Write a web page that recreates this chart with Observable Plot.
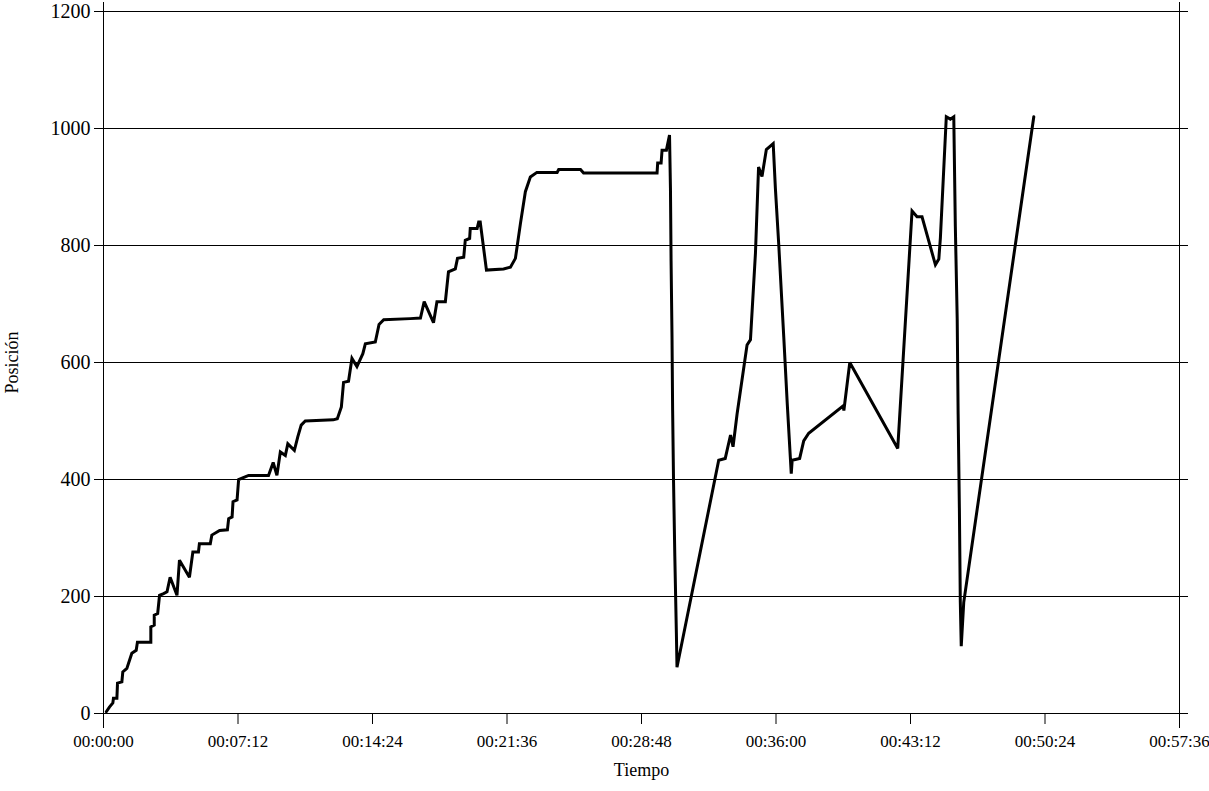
<!DOCTYPE html>
<html>
<head>
<meta charset="utf-8">
<script src="https://cdn.jsdelivr.net/npm/d3@7"></script>
<script src="https://cdn.jsdelivr.net/npm/@observablehq/plot@0.6"></script>
<style>
  html, body { margin: 0; padding: 0; background: #fff; }
</style>
</head>
<body>
<div id="chart"></div>
<script>
// Elapsed time (seconds) and position readings
const tiempo = [
  9, 19, 30, 32, 43, 45, 59, 62, 75, 91, 105, 109, 152, 152, 163, 163, 174, 180, 193, 204,
  214, 236, 244, 276, 287, 305, 308, 343, 348, 373, 398, 402, 413, 416, 429, 434, 466, 530, 545, 557,
  568, 584, 592, 613, 624, 635, 648, 738, 751, 764, 771, 787, 798, 814, 833, 841, 873, 885, 900, 985,
  1018, 1030, 1060, 1071, 1098, 1108, 1130, 1137, 1157, 1162, 1176, 1178, 1200, 1205, 1210, 1230, 1285, 1307, 1323, 1339,
  1355, 1371, 1392, 1457, 1462, 1532, 1542, 1778, 1780, 1791, 1794, 1808, 1818, 1821, 1823, 1826, 1828, 1831, 1835, 1840,
  1842, 1976, 1997, 2014, 2022, 2035, 2067, 2078, 2094, 2104, 2115, 2129, 2151, 2158, 2169, 2185, 2196, 2209, 2212, 2236,
  2249, 2265, 2376, 2378, 2397, 2551, 2597, 2613, 2629, 2672, 2683, 2688, 2707, 2720, 2731, 2736, 2742, 2745, 2749, 2752,
  2755, 2763, 2988
];
const posicion = [
  3, 11, 18, 26, 26, 52, 54, 71, 77, 103, 108, 122, 122, 148, 151, 168, 171, 202, 205, 208,
  233, 202, 262, 233, 276, 276, 290, 290, 305, 313, 314, 333, 336, 362, 365, 400, 407, 407, 429, 407,
  447, 441, 461, 450, 473, 493, 500, 502, 504, 524, 566, 568, 607, 593, 615, 632, 635, 665, 673, 675,
  676, 704, 668, 704, 704, 755, 760, 778, 780, 809, 812, 829, 829, 840, 840, 758, 760, 763, 778, 837,
  892, 917, 925, 925, 930, 930, 924, 924, 941, 941, 963, 963, 989, 898, 774, 643, 518, 394, 269, 138,
  79, 433, 436, 476, 456, 512, 630, 639, 787, 934, 918, 964, 974, 898, 800, 643, 531, 410, 433, 436,
  466, 479, 526, 518, 600, 453, 859, 849, 849, 767, 777, 813, 1020, 1016, 1020, 833, 675, 512, 351, 190,
  115, 190, 1020
];
const xTicks = [0, 432, 864, 1296, 1728, 2160, 2592, 3024, 3456];
const yTicks = [0, 200, 400, 600, 800, 1000, 1200];
const xTitle = "Tiempo";
const yTitle = "Posición";

const data = tiempo.map((t, i) => ({t, p: posicion[i]}));
const pad = n => String(n).padStart(2, "0");
const fmt = s => `${pad(Math.floor(s / 3600))}:${pad(Math.floor(s / 60) % 60)}:${pad(s % 60)}`;

const chart = Plot.plot({
  width: 1209,
  height: 791,
  marginLeft: 103,
  marginRight: 30,
  marginTop: 11,
  marginBottom: 78,
  style: {fontFamily: "'Liberation Serif', 'Times New Roman', serif", color: "#000", background: "#fff"},
  x: {domain: [0, 3456], axis: null},
  y: {domain: [0, 1200], axis: null},
  marks: [
    Plot.ruleY(yTicks, {stroke: "#000", strokeWidth: 1, insetLeft: -9, insetRight: -9}),
    Plot.ruleX([0, 3456], {stroke: "#000", strokeWidth: 1, insetTop: -9, insetBottom: -15}),
    Plot.axisX({ticks: xTicks, tickFormat: fmt, tickSize: 11, tickPadding: 10, fontSize: 17, label: null}),
    Plot.axisY({ticks: yTicks, tickFormat: d => String(d), tickSize: 0, tickPadding: 13, fontSize: 20, label: null}),
    Plot.line(data, {x: "t", y: "p", stroke: "#000", strokeWidth: 3, strokeLinejoin: "miter", strokeMiterlimit: 3}),
    Plot.text([xTitle], {frameAnchor: "bottom", dy: 62, fontSize: 18, text: d => d}),
    Plot.text([yTitle], {frameAnchor: "left", dx: -91, rotate: -90, textAnchor: "middle", fontSize: 18, text: d => d})
  ]
});
document.getElementById("chart").appendChild(chart);
</script>
</body>
</html>
